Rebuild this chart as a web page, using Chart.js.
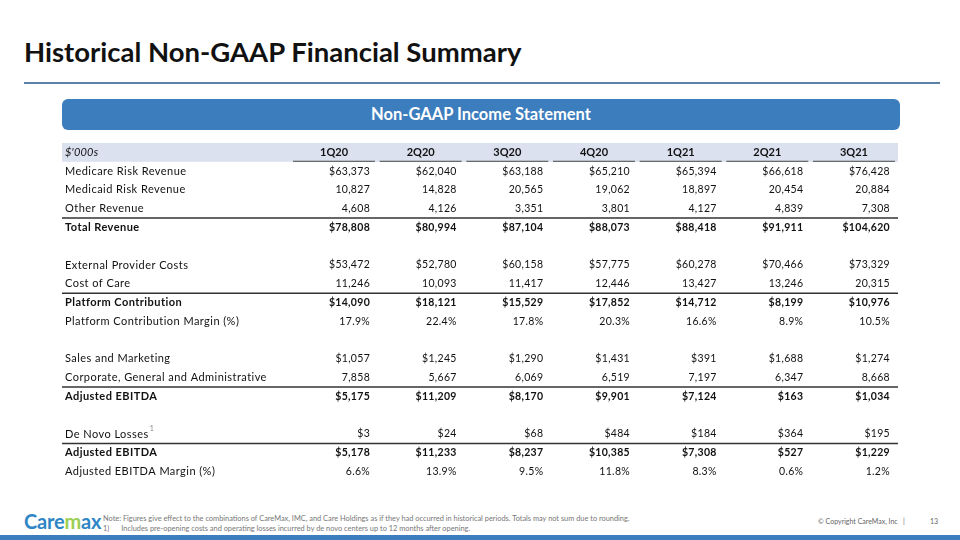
<!DOCTYPE html>
<html>
<head>
<meta charset="utf-8">
<title>Historical Non-GAAP Financial Summary</title>
<script src="https://cdn.jsdelivr.net/npm/chart.js@4.4.1/dist/chart.umd.min.js"></script>
<style>
  body { margin: 0; background: #fff; }
  #page { position: relative; width: 960px; height: 540px; overflow: hidden; font-family: Lato, "Open Sans", sans-serif; }
  #title { position: absolute; left: 24px; top: 35px; font-size: 27.5px; font-weight: 700; color: #111; white-space: nowrap; }
  #titleRule { position: absolute; left: 24px; top: 82px; width: 916px; height: 2px; background: #5b81a9; }
  #banner { position: absolute; left: 62px; top: 99px; width: 838px; height: 31px; border-radius: 6px;
            background: #3c7dbd; color: #fff; font-size: 16.5px; font-weight: 700; text-align: center; line-height: 31px; }
  #tableBox { position: absolute; left: 62px; top: 143px; width: 838px; height: 338px; }
  #logo { position: absolute; left: 24px; top: 509px; font-size: 20px; font-weight: 700; color: #2f86c6; white-space: nowrap; letter-spacing: -0.2px; }
  #logo span { color: #9ccf52; }
  .note { position: absolute; left: 103px; font-size: 7.4px; color: #777; white-space: nowrap; }
  #copy { position: absolute; left: 818px; top: 517px; font-size: 7px; color: #666; white-space: nowrap; }
  #pageNo { position: absolute; left: 930px; top: 517px; font-size: 7px; color: #666; }
  #bottomBar { position: absolute; left: 0; top: 535px; width: 960px; height: 5px; background: #3c7dbd; }
</style>
</head>
<body>
<div id="page">
  <div id="title">Historical Non-GAAP Financial Summary</div>
  <div id="titleRule"></div>
  <div id="banner">Non-GAAP Income Statement</div>
  <div id="tableBox"><canvas id="chart"></canvas></div>
  <div id="logo">Care<span>m</span>ax</div>
  <div class="note" style="top:514px">Note: Figures give effect to the combinations of CareMax, IMC, and Care Holdings as if they had occurred in historical periods. Totals may not sum due to rounding.</div>
  <div class="note" style="top:524px">1)<span style="display:inline-block;width:12px"></span>Includes pre-opening costs and operating losses incurred by de novo centers up to 12 months after opening.</div>
  <div id="copy">© Copyright CareMax, Inc &nbsp;&nbsp;|</div>
  <div id="pageNo">13</div>
  <div id="bottomBar"></div>
</div>

<script>
/* データ */
const quarters = ["1Q20", "2Q20", "3Q20", "4Q20", "1Q21", "2Q21", "3Q21"];

const rowLabels = [
  "$'000s",
  "Medicare Risk Revenue",
  "Medicaid Risk Revenue",
  "Other Revenue",
  "Total Revenue",
  "",
  "External Provider Costs",
  "Cost of Care",
  "Platform Contribution",
  "Platform Contribution Margin (%)",
  "",
  "Sales and Marketing",
  "Corporate, General and Administrative",
  "Adjusted EBITDA",
  "",
  "De Novo Losses",
  "Adjusted EBITDA",
  "Adjusted EBITDA Margin (%)"
];

const medicareRisk = [63373, 62040, 63188, 65210, 65394, 66618, 76428];
const medicaidRisk = [10827, 14828, 20565, 19062, 18897, 20454, 20884];
const otherRevenue = [4608, 4126, 3351, 3801, 4127, 4839, 7308];
const totalRevenue = [78808, 80994, 87104, 88073, 88418, 91911, 104620];
const externalProvider = [53472, 52780, 60158, 57775, 60278, 70466, 73329];
const costOfCare = [11246, 10093, 11417, 12446, 13427, 13246, 20315];
const platformContribution = [14090, 18121, 15529, 17852, 14712, 8199, 10976];
const platformMargin = [17.9, 22.4, 17.8, 20.3, 16.6, 8.9, 10.5];
const salesMarketing = [1057, 1245, 1290, 1431, 391, 1688, 1274];
const corporateGA = [7858, 5667, 6069, 6519, 7197, 6347, 8668];
const adjEbitda = [5175, 11209, 8170, 9901, 7124, 163, 1034];
const deNovoLosses = [3, 24, 68, 484, 184, 364, 195];
const adjEbitdaTotal = [5178, 11233, 8237, 10385, 7308, 527, 1229];
const adjEbitdaMargin = [6.6, 13.9, 9.5, 11.8, 8.3, 0.6, 1.2];

/* 行ごとの値と書式 ($ / % / 数値) */
const rowValues = [
  null, medicareRisk, medicaidRisk, otherRevenue, totalRevenue, null,
  externalProvider, costOfCare, platformContribution, platformMargin, null,
  salesMarketing, corporateGA, adjEbitda, null,
  deNovoLosses, adjEbitdaTotal, adjEbitdaMargin
];
const rowFormats = ["", "$", "", "", "$", "", "$", "", "$", "%", "", "$", "", "$", "", "$", "$", "%"];
const rowNotes = { 15: "1" };

/* スタイル */
const boldRows = [4, 8, 13, 16];
const ruleRows = [4, 8, 13, 16];
const FONT = "Lato, 'Open Sans', sans-serif";


function formatValue(v, fmt) {
  if (fmt === "%") return v.toFixed(1) + "%";
  const s = v.toLocaleString("en-US");
  return fmt === "$" ? "$" + s : s;
}


/* 表の描画プラグイン */
const tablePlugin = {
  id: "tableText",

  beforeDatasetsDraw(chart) {
    const { ctx, width } = chart;
    const x = chart.scales.x;
    const y = chart.scales.y;
    const rowH = y.getPixelForValue(1) - y.getPixelForValue(0);
    const headY = y.getPixelForValue(0);

    ctx.save();

    // ヘッダー背景
    ctx.fillStyle = "#dce1f0";
    ctx.fillRect(0, headY - rowH / 2, width - 2, rowH);

    // ヘッダー下線
    ctx.strokeStyle = "#444";
    ctx.lineWidth = 1;
    quarters.forEach((q, c) => {
      const cx = x.getPixelForValue(c);
      ctx.beginPath();
      ctx.moveTo(cx - 41, headY + rowH / 2 - 0.5);
      ctx.lineTo(cx + 41, headY + rowH / 2 - 0.5);
      ctx.stroke();
    });

    // 合計行の罫線
    ctx.strokeStyle = "#333";
    ctx.lineWidth = 1.5;
    ruleRows.forEach(r => {
      const yy = y.getPixelForValue(r) - rowH / 2;
      ctx.beginPath();
      ctx.moveTo(0, yy);
      ctx.lineTo(width - 2, yy);
      ctx.stroke();
    });

    ctx.restore();
  },

  afterDatasetsDraw(chart) {
    const { ctx } = chart;
    const x = chart.scales.x;
    const y = chart.scales.y;

    ctx.save();
    ctx.textBaseline = "middle";
    ctx.fillStyle = "#111";

    // 行ラベル
    ctx.textAlign = "left";
    rowLabels.forEach((label, r) => {
      if (!label) return;
      const yy = y.getPixelForValue(r);
      if (r === 0) {
        ctx.font = "italic 11px " + FONT;
        ctx.letterSpacing = "0.2px";
      } else {
        ctx.font = (boldRows.includes(r) ? "bold " : "") + "11px " + FONT;
        ctx.letterSpacing = "0.45px";
      }
      ctx.fillText(label, 3, yy);
      if (rowNotes[r]) {
        const w = ctx.measureText(label).width;
        ctx.font = "7px " + FONT;
        ctx.fillStyle = "#888";
        ctx.fillText(rowNotes[r], 3 + w + 1, yy - 5);
        ctx.fillStyle = "#111";
      }
    });

    // 四半期ヘッダー
    ctx.textAlign = "center";
    ctx.font = "bold 11px " + FONT;
    ctx.letterSpacing = "0px";
    const headY = y.getPixelForValue(0);
    quarters.forEach((q, c) => {
      ctx.fillText(q, x.getPixelForValue(c), headY);
    });

    // 数値
    ctx.textAlign = "right";
    chart.data.datasets.forEach((ds, i) => {
      const meta = chart.getDatasetMeta(i);
      const r = ds.rowIndex;
      ctx.font = (boldRows.includes(r) ? "bold " : "") + "10.5px " + FONT;
      ctx.letterSpacing = "0.3px";
      meta.data.forEach((el, c) => {
        ctx.fillText(formatValue(rowValues[r][c], rowFormats[r]), el.x + 36, el.y);
      });
    });

    ctx.restore();
  }
};


/* データセット作成 */
function buildDatasets() {
  const datasets = [];
  rowValues.forEach((vals, r) => {
    if (!vals) return;
    datasets.push({
      label: rowLabels[r],
      rowIndex: r,
      data: vals.map((v, c) => ({ x: c, y: r })),
      pointRadius: 0,
      pointHoverRadius: 0,
      showLine: false
    });
  });
  return datasets;
}


/* グラフ */
document.addEventListener("DOMContentLoaded", () => {
  new Chart(document.getElementById("chart"), {
    type: "scatter",
    data: { datasets: buildDatasets() },
    options: {
      responsive: true,
      maintainAspectRatio: false,
      animation: false,
      events: [],
      layout: { padding: { left: 228.7, right: 2.7, top: 0, bottom: 0 } },
      plugins: {
        legend: { display: false },
        tooltip: { enabled: false }
      },
      scales: {
        x: { type: "linear", min: -0.5, max: quarters.length - 0.5, display: false },
        y: { type: "linear", min: -0.5, max: rowLabels.length - 0.5, reverse: true, display: false }
      }
    },
    plugins: [tablePlugin]
  });
});
</script>
</body>
</html>
